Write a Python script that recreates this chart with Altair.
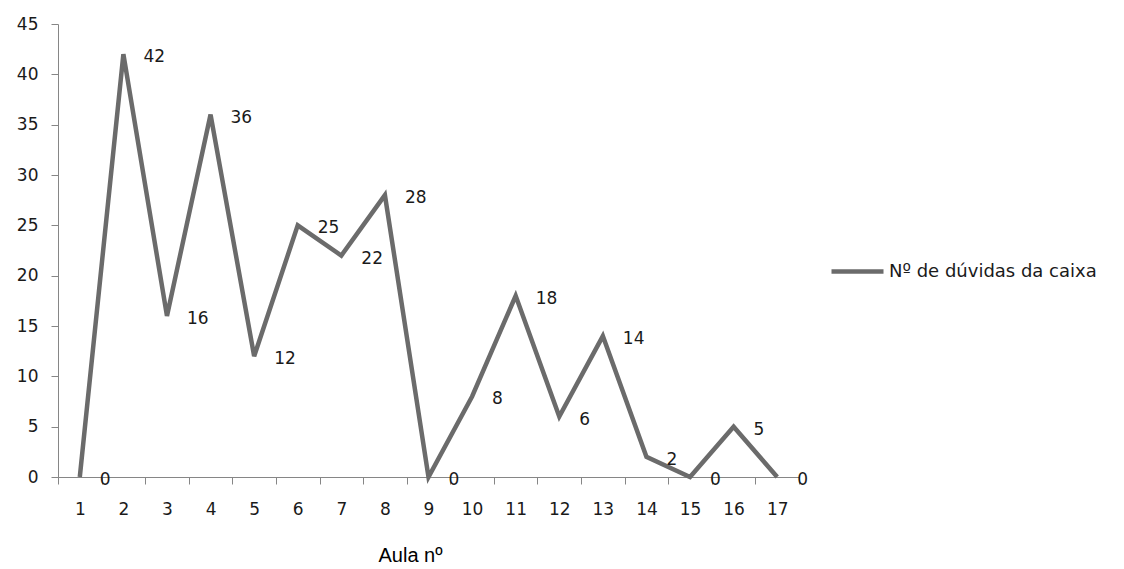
import altair as alt
import pandas as pd

aulas = list(range(1, 18))
duvidas = [0, 42, 16, 36, 12, 25, 22, 28, 0, 8, 18, 6, 14, 2, 0, 5, 0]
serie = "Nº de dúvidas da caixa"

df = pd.DataFrame({"aula": aulas, "duvidas": duvidas, "serie": [serie] * len(aulas)})

FONT = "DejaVu Sans"
AXIS_COLOR = "#868686"
LINE_COLOR = "#6b6b6b"
TXT = "#1a1a1a"
FS = 17

x_enc = alt.X(
    "aula:O",
    scale=alt.Scale(type="band", paddingInner=0, paddingOuter=0),
    bandPosition=0.5,
    axis=alt.Axis(
        title="Aula nº",
        titleFont="Liberation Sans",
        titleFontSize=20,
        titleFontWeight="normal",
        titleColor="#000000",
        titleX=352,
        titleY=68,
        titleAlign="center",
        labelAngle=0,
        labelFont=FONT,
        labelFontSize=FS,
        labelColor=TXT,
        labelPadding=17,
        tickBand="extent",
        tickSize=7,
        tickColor=AXIS_COLOR,
        domainColor=AXIS_COLOR,
        grid=False,
    ),
)

y_enc = alt.Y(
    "duvidas:Q",
    scale=alt.Scale(domain=[0, 45], nice=False),
    axis=alt.Axis(
        title=None,
        values=list(range(0, 50, 5)),
        labelFont=FONT,
        labelFontSize=FS,
        labelColor=TXT,
        labelPadding=13,
        tickSize=7,
        tickColor=AXIS_COLOR,
        domainColor=AXIS_COLOR,
        grid=False,
    ),
)

line = alt.Chart(df).mark_line(strokeWidth=4.5, strokeJoin="miter").encode(
    x=x_enc,
    y=y_enc,
    color=alt.Color(
        "serie:N",
        scale=alt.Scale(range=[LINE_COLOR]),
        legend=alt.Legend(
            title=None,
            orient="none",
            legendX=771,
            legendY=219,
            padding=0,
            symbolType="stroke",
            symbolStrokeWidth=4.5,
            symbolSize=2704,
            labelOffset=3,
            labelFont=FONT,
            labelFontSize=18,
            labelColor=TXT,
            labelLimit=400,
        ),
    ),
)

labels = alt.Chart(df).mark_text(
    align="left", baseline="middle", dx=20, dy=3, font=FONT, fontSize=FS, color=TXT
).encode(
    x=alt.X("aula:O", bandPosition=0.5),
    y="duvidas:Q",
    text="duvidas:Q",
)

chart = (
    alt.layer(line, labels)
    .properties(
        width=741,
        height=453,
        autosize=alt.AutoSizeParams(type="none"),
        padding={"left": 58, "top": 24, "right": 325, "bottom": 92},
    )
    .configure(background="white", view=alt.ViewConfig(stroke=None))
)

chart.save("out.html", embed_options={"renderer": "svg", "actions": False})
